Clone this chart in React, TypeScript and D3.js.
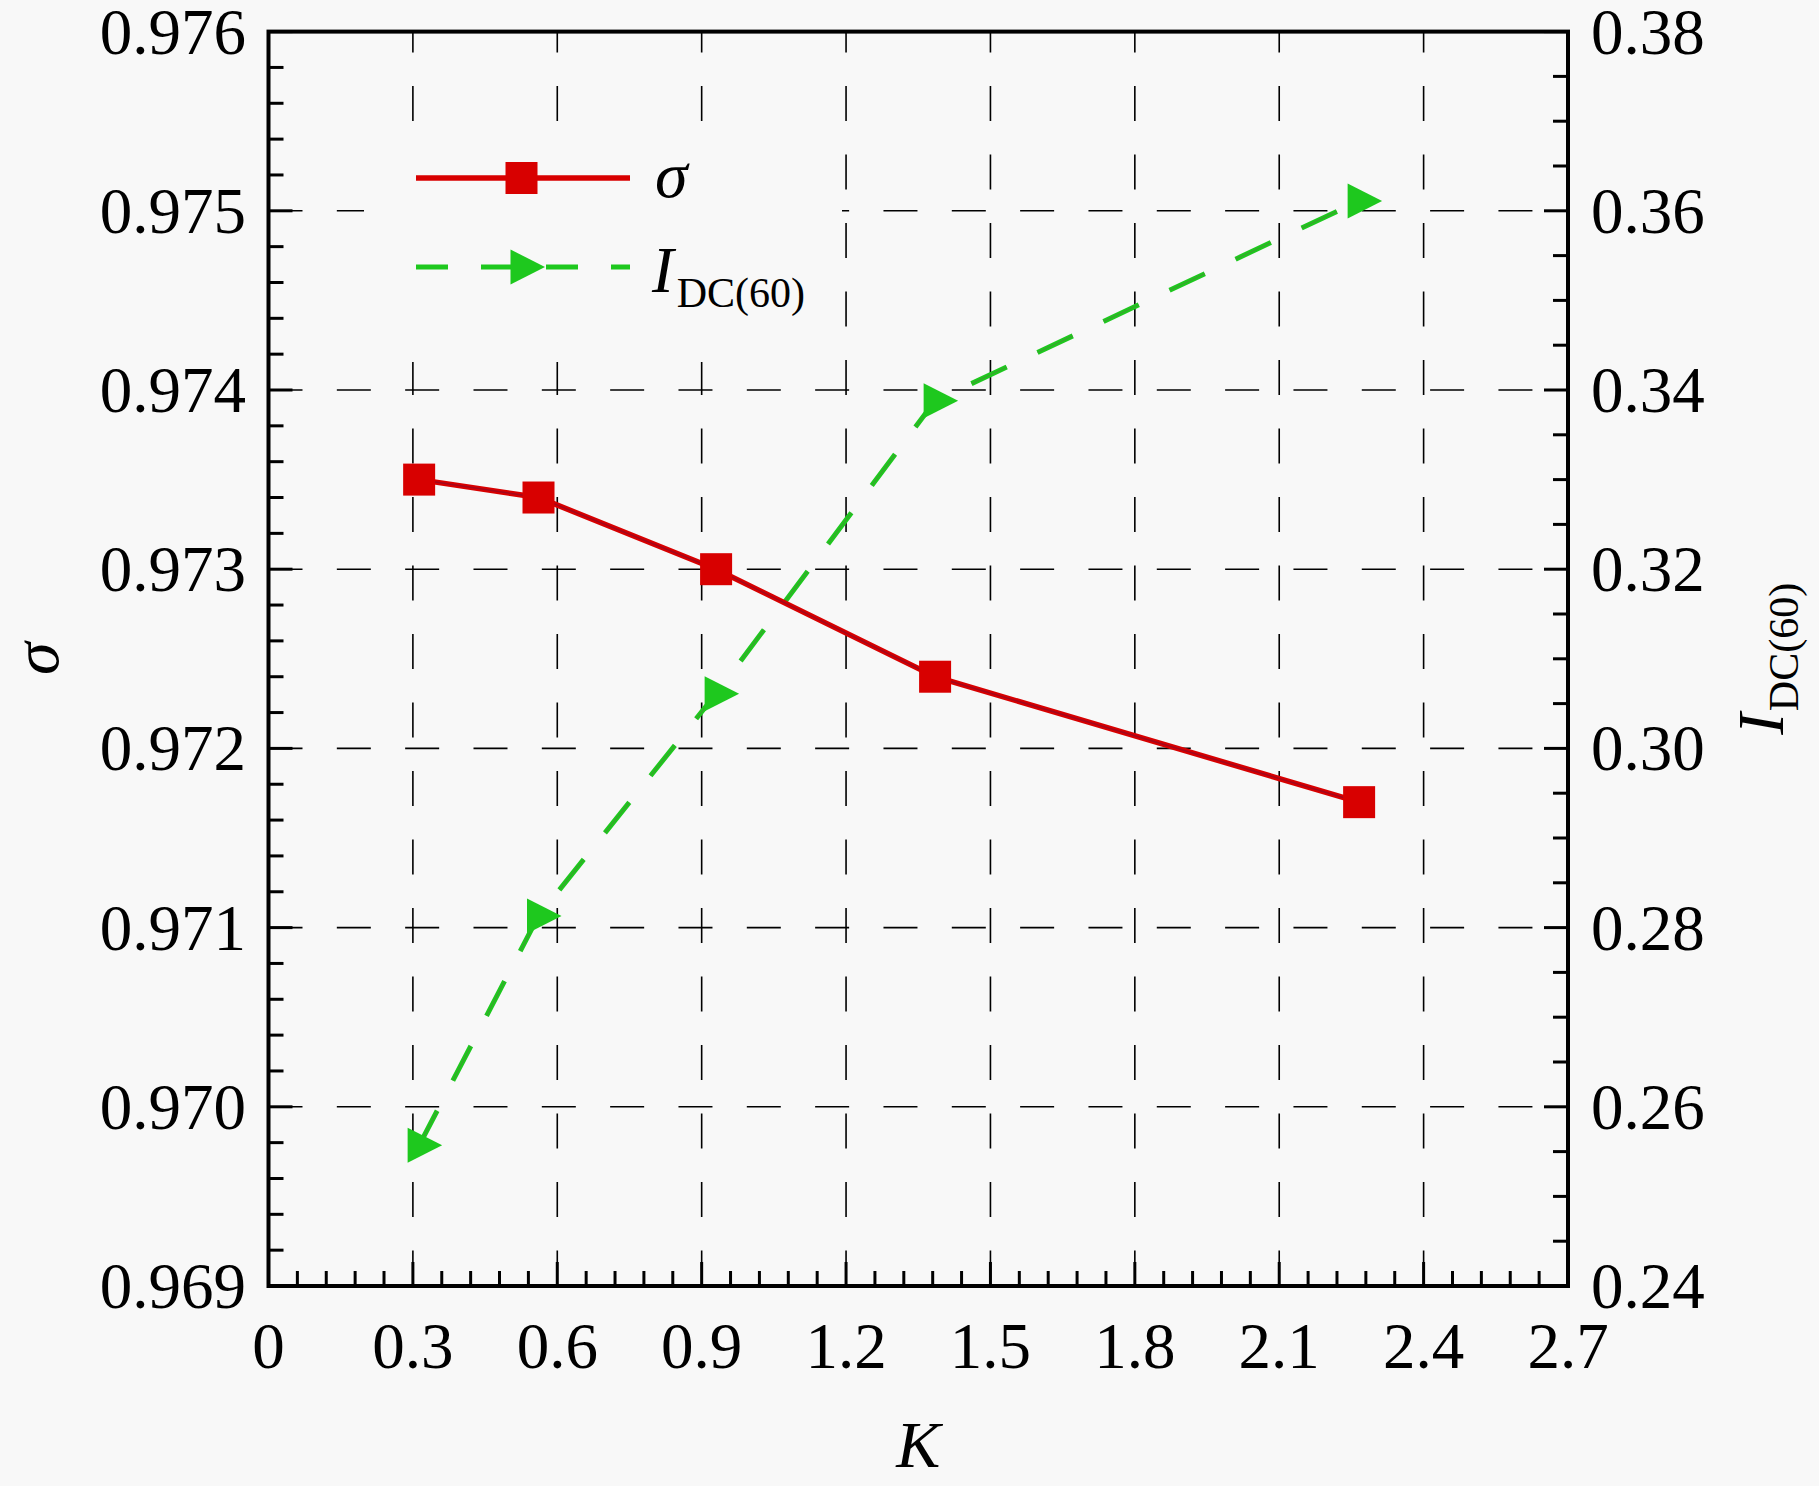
import React from "react";
import * as d3 from "d3";

// ---- data ----
const kValues = [0.313, 0.561, 0.93, 1.385, 2.266];
const sigmaValues = [0.9735, 0.9734, 0.973, 0.9724, 0.9717];
const idcValues = [0.2557, 0.2813, 0.3061, 0.3388, 0.3611];

const xTicks = [0, 0.3, 0.6, 0.9, 1.2, 1.5, 1.8, 2.1, 2.4, 2.7];
const leftTicks = [0.969, 0.97, 0.971, 0.972, 0.973, 0.974, 0.975, 0.976];
const rightTicks = [0.24, 0.26, 0.28, 0.3, 0.32, 0.34, 0.36, 0.38];
const xGrid = [0.3, 0.6, 0.9, 1.2, 1.5, 1.8, 2.1, 2.4];
const yGrid = [0.97, 0.971, 0.972, 0.973, 0.974, 0.975];

const W = 1819;
const H = 1486;
const L = 268.5, R = 1568, T = 31.6, B = 1286;
const BG = "#f8f8f8";
const RED = "#d80000";
const GREEN = "#1ec81e";
const FONT = "'Liberation Serif', 'Times New Roman', serif";

const x = d3.scaleLinear().domain([0, 2.7]).range([L, R]);
const yL = d3.scaleLinear().domain([0.969, 0.976]).range([B, T]);
const yR = d3.scaleLinear().domain([0.24, 0.38]).range([B, T]);

const range = (a: number, b: number, s: number) => {
  const out: number[] = [];
  const n = Math.round((b - a) / s);
  for (let i = 0; i <= n; i++) out.push(a + i * s);
  return out;
};
const xMinor = range(0, 2.7, 0.06);
const leftMinor = range(0.969, 0.976, 0.0002);
const rightMinor = range(0.24, 0.38, 0.005);

const sigmaPts: [number, number][] = kValues.map((k, i) => [x(k), yL(sigmaValues[i])]);
const idcPts: [number, number][] = kValues.map((k, i) => [x(k), yR(idcValues[i])]);
const lineGen = d3.line<[number, number]>().x((d) => d[0]).y((d) => d[1]);

const tri = (cx: number, cy: number) =>
  `M${cx - 11.5},${cy - 17.5}L${cx + 23},${cy}L${cx - 11.5},${cy + 17.5}Z`;

export default function App() {
  const MAJ = 24, MIN = 15;
  return (
    <div style={{ position: "absolute", left: 0, top: 0 }}>
      <svg width={W} height={H} viewBox={`0 0 ${W} ${H}`} style={{ display: "block" }}>
        <rect x={0} y={0} width={W} height={H} fill={BG} />
        {/* grid */}
        {xGrid.map((v) => (
          <line key={"gx" + v} x1={x(v)} x2={x(v)} y1={T} y2={B} stroke="#000" strokeWidth={1.6}
            strokeDasharray="35 33.5" strokeDashoffset={14} />
        ))}
        {yGrid.map((v) => (
          <line key={"gy" + v} x1={L} x2={R} y1={yL(v)} y2={yL(v)} stroke="#000" strokeWidth={1.6}
            strokeDasharray="34 34.33" />
        ))}
        {/* legend background box */}
        <rect x={364} y={124} width={478} height={238} fill={BG} />
        {/* series lines */}
        <path d={lineGen(idcPts) || ""} fill="none" stroke={GREEN} strokeWidth={5} strokeDasharray="39 34" />
        <path d={lineGen(idcPts) || ""} fill="none" stroke="#4f8a3a" strokeWidth={1.2} strokeDasharray="39 34" opacity={0.6} />
        <path d={lineGen(sigmaPts) || ""} fill="none" stroke={RED} strokeWidth={5.5} />
        <path d={lineGen(sigmaPts) || ""} fill="none" stroke="#8a0a2a" strokeWidth={1.5} opacity={0.7} />
        {idcPts.map((p, i) => (
          <path key={"t" + i} d={tri(p[0], p[1])} fill={GREEN} />
        ))}
        {sigmaPts.map((p, i) => (
          <rect key={"s" + i} x={p[0] - 16} y={p[1] - 16} width={32} height={32} fill={RED} />
        ))}
        {/* axes frame */}
        <rect x={L} y={T} width={R - L} height={B - T} fill="none" stroke="#000" strokeWidth={4} />
        {/* bottom ticks */}
        {xMinor.map((v, i) => (
          <line key={"xm" + i} x1={x(v)} x2={x(v)} y1={B} y2={B - (i % 5 === 0 ? MAJ : MIN)} stroke="#000" strokeWidth={3} />
        ))}
        {/* left ticks */}
        {leftMinor.map((v, i) => (
          <line key={"lm" + i} x1={L} x2={L + (i % 5 === 0 ? MAJ : MIN)} y1={yL(v)} y2={yL(v)} stroke="#000" strokeWidth={3} />
        ))}
        {/* right ticks */}
        {rightMinor.map((v, i) => (
          <line key={"rm" + i} x1={R} x2={R - (i % 4 === 0 ? MAJ : MIN)} y1={yR(v)} y2={yR(v)} stroke="#000" strokeWidth={3} />
        ))}
        {/* tick labels */}
        <g fontFamily={FONT} fontSize={65} fill="#000">
          {xTicks.map((v) => (
            <text key={"xl" + v} x={x(v)} y={1368} textAnchor="middle">
              {v === 0 ? "0" : v.toFixed(1)}
            </text>
          ))}
          {leftTicks.map((v) => (
            <text key={"ll" + v} x={246} y={yL(v) + 22} textAnchor="end">
              {v.toFixed(3)}
            </text>
          ))}
          {rightTicks.map((v) => (
            <text key={"rl" + v} x={1591} y={yR(v) + 22} textAnchor="start">
              {v.toFixed(2)}
            </text>
          ))}
        </g>
        {/* axis titles */}
        <text x={(L + R) / 2} y={1467} textAnchor="middle" fontFamily={FONT} fontSize={66} fontStyle="italic">K</text>
        <text transform={`translate(58, ${(T + B) / 2}) rotate(-90)`} textAnchor="middle" fontFamily={FONT}
          fontSize={66} fontStyle="italic">σ</text>
        <text transform={`translate(1783, ${(T + B) / 2}) rotate(-90)`} textAnchor="middle" fontFamily={FONT} fontSize={65}>
          <tspan fontStyle="italic">I</tspan>
          <tspan fontSize={42} dy={15} dx={2}>DC(60)</tspan>
        </text>
        {/* legend */}
        <line x1={416} x2={630} y1={178} y2={178} stroke={RED} strokeWidth={5.5} />
        <rect x={521.5 - 16} y={178 - 16} width={32} height={32} fill={RED} />
        <text x={655} y={197} fontFamily={FONT} fontSize={66} fontStyle="italic">σ</text>
        <line x1={416} x2={630} y1={267} y2={267} stroke={GREEN} strokeWidth={5} strokeDasharray="32 33" />
        <path d={tri(522, 267)} fill={GREEN} />
        <text x={652} y={292} fontFamily={FONT} fontSize={65}>
          <tspan fontStyle="italic">I</tspan>
          <tspan fontSize={42} dy={15} dx={3}>DC(60)</tspan>
        </text>
      </svg>
    </div>
  );
}
